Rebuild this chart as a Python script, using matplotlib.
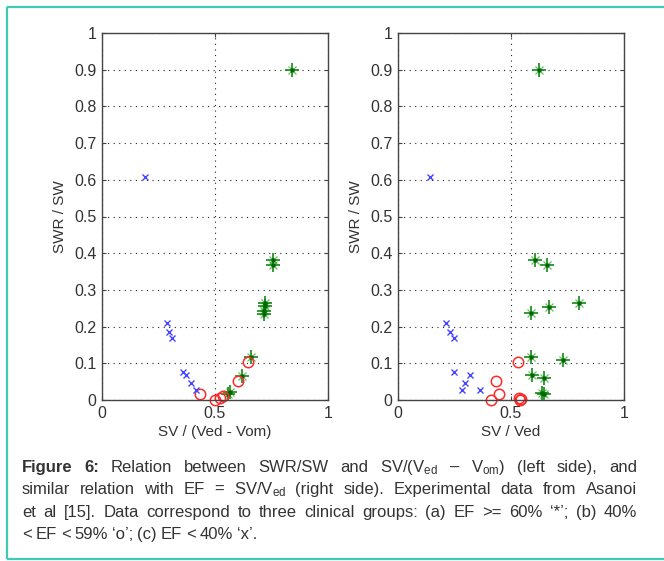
import matplotlib
matplotlib.use("Agg")
import matplotlib.pyplot as plt
from matplotlib.lines import Line2D
from matplotlib import font_manager

# ---------------- data ----------------
# Left panel: SV/(Ved - Vom) vs SWR/SW
left_star_x = [0.84, 0.757, 0.755, 0.722, 0.720, 0.718, 0.716, 0.658, 0.621, 0.566, 0.558]
left_star_y = [0.90, 0.381, 0.368, 0.264, 0.255, 0.243, 0.233, 0.118, 0.066, 0.021, 0.015]
left_circ_x = [0.434, 0.500, 0.522, 0.534, 0.603, 0.647]
left_circ_y = [0.015, 0.000, 0.005, 0.010, 0.052, 0.104]
left_x_x = [0.190, 0.286, 0.296, 0.308, 0.360, 0.372, 0.392, 0.416]
left_x_y = [0.608, 0.209, 0.186, 0.168, 0.077, 0.068, 0.045, 0.027]

# Right panel: SV/Ved vs SWR/SW
right_star_x = [0.625, 0.606, 0.661, 0.802, 0.670, 0.588, 0.588, 0.729, 0.594, 0.646, 0.637, 0.647]
right_star_y = [0.900, 0.381, 0.368, 0.264, 0.253, 0.238, 0.118, 0.109, 0.068, 0.059, 0.020, 0.016]
right_circ_x = [0.532, 0.432, 0.448, 0.410, 0.537, 0.541, 0.544]
right_circ_y = [0.104, 0.051, 0.015, 0.000, 0.005, 0.000, 0.003]
right_x_x = [0.142, 0.212, 0.230, 0.249, 0.249, 0.319, 0.296, 0.282, 0.363]
right_x_y = [0.608, 0.209, 0.186, 0.168, 0.077, 0.068, 0.045, 0.027, 0.027]

y_ticks = [0, 0.1, 0.2, 0.3, 0.4, 0.5, 0.6, 0.7, 0.8, 0.9, 1]
y_ticklabels = ["0", "0.1", "0.2", "0.3", "0.4", "0.5", "0.6", "0.7", "0.8", "0.9", "1"]
x_ticks = [0, 0.5, 1]
x_ticklabels = ["0", "0.5", "1"]

ylabel = "SWR / SW"
xlabel_left = "SV / (Ved - Vom)"
xlabel_right = "SV / Ved"

caption_lines = [
    [("Figure", True), ("6:", True), ("Relation", False), ("between", False), ("SWR/SW", False),
     ("and", False), (r"SV/(V$_{\rm ed}$", False), ("–", False), (r"V$_{\rm om}$)", False),
     ("(left", False), ("side),", False), ("and", False)],
    [("similar", False), ("relation", False), ("with", False), ("EF", False), ("=", False),
     (r"SV/V$_{\rm ed}$", False), ("(right", False), ("side).", False), ("Experimental", False),
     ("data", False), ("from", False), ("Asanoi", False)],
    [("et", False), ("al", False), ("[15].", False), ("Data", False), ("correspond", False),
     ("to", False), ("three", False), ("clinical", False), ("groups:", False), ("(a)", False),
     ("EF", False), (">=", False), ("60%", False), ("‘*’;", False), ("(b)", False), ("40%", False)],
    [("<", False), ("EF", False), ("<", False), ("59%", False), ("‘o’;", False), ("(c)", False),
     ("EF", False), ("<", False), ("40%", False), ("‘x’.", False)],
]

# ---------------- style ----------------
avail = {f.name for f in font_manager.fontManager.ttflist}
cap_family = "Liberation Sans Narrow" if "Liberation Sans Narrow" in avail else "Liberation Sans"
plt.rcParams["font.family"] = ["Liberation Sans", "DejaVu Sans"]
plt.rcParams["mathtext.fontset"] = "custom"
plt.rcParams["mathtext.rm"] = cap_family
plt.rcParams["mathtext.it"] = cap_family
plt.rcParams["mathtext.bf"] = cap_family

W, H = 664, 561
fig = plt.figure(figsize=(W / 100, H / 100), dpi=100)
fig.patch.set_facecolor("white")

green = "#0b8a0b"
red = "#ff2a2a"
blue = "#4646ff"
axis_col = "#444444"
text_col = "#333333"


def setup(ax, xlabel):
    ax.set_xlim(0, 1)
    ax.set_ylim(0, 1)
    ax.set_xticks(x_ticks)
    ax.set_xticklabels(x_ticklabels)
    ax.set_yticks(y_ticks)
    ax.set_yticklabels(y_ticklabels)
    ax.tick_params(direction="in", length=3, width=0.8, colors=axis_col,
                   labelcolor=text_col, labelsize=11.5, top=True, right=True, pad=4)
    for s in ax.spines.values():
        s.set_color(axis_col)
        s.set_linewidth(1.0)
    ax.grid(True, color="#222222", linestyle=(0, (1, 4)), linewidth=0.8)
    ax.set_axisbelow(True)
    ax.set_xlabel(xlabel, fontsize=11, color=text_col, labelpad=3)
    ax.set_ylabel(ylabel, fontsize=11, color=text_col, labelpad=5)


def draw(ax, sx, sy, cx, cy, xx, xy):
    ax.plot(sx, sy, linestyle="none", marker="+", markersize=10, mew=1.3, color=green, alpha=0.9)
    ax.plot(sx, sy, linestyle="none", marker="x", markersize=6, mew=0.9, color=green, alpha=0.6)
    ax.plot(sx, sy, linestyle="none", marker="o", markersize=3.2, mew=0, color="#006600")
    ax.plot(cx, cy, linestyle="none", marker="o", markersize=7.5, mfc="none", mew=1.1, color=red,
            clip_on=False)
    ax.plot(xx, xy, linestyle="none", marker="x", markersize=5, mew=1.0, color=blue)


axL = fig.add_axes([102 / W, 1 - 400 / H, 226 / W, 367 / H])
axR = fig.add_axes([398 / W, 1 - 400 / H, 226 / W, 367 / H])
setup(axL, xlabel_left)
setup(axR, xlabel_right)
draw(axL, left_star_x, left_star_y, left_circ_x, left_circ_y, left_x_x, left_x_y)
draw(axR, right_star_x, right_star_y, right_circ_x, right_circ_y, right_x_x, right_x_y)

# frame border: left, top and bottom only (right side runs off the image)
bx0, by_top, by_bot = 7 / W, 1 - 6.5 / H, 1 - 558.5 / H
for xs, ys in [([bx0, bx0], [by_bot, by_top]), ([bx0, 1.0], [by_top, by_top]),
               ([bx0, 1.0], [by_bot, by_bot])]:
    fig.add_artist(Line2D(xs, ys, transform=fig.transFigure, color="#3ecbb5",
                          linewidth=1.6, solid_capstyle="butt"))

# caption, justified
fig.canvas.draw()
renderer = fig.canvas.get_renderer()
x_left, x_right = 22, 637
line_y = [472, 494, 517, 539]
cap_size = 12
for li, words in enumerate(caption_lines):
    texts = []
    for w, bold in words:
        t = fig.text(0, 1 - line_y[li] / H, w, fontsize=cap_size, family=cap_family,
                     weight="bold" if bold else "normal", color=text_col,
                     va="baseline", ha="left")
        texts.append(t)
    widths = [t.get_window_extent(renderer).width for t in texts]
    total = sum(widths)
    last = li == len(caption_lines) - 1
    if last:
        gap = 4.0
    else:
        gap = (x_right - x_left - total) / (len(texts) - 1)
    x = x_left
    for t, wd in zip(texts, widths):
        t.set_x(x / W)
        x += wd + gap

fig.savefig("out.png", dpi=100)
